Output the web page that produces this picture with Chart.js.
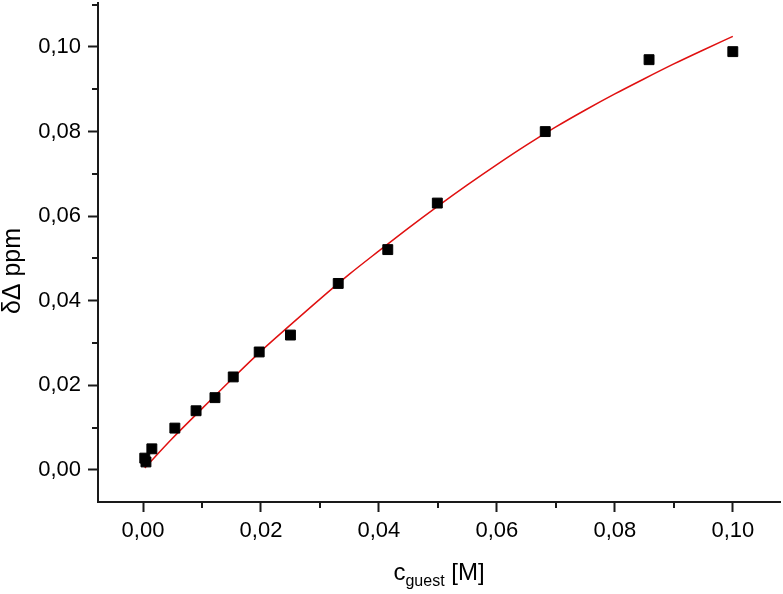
<!DOCTYPE html>
<html>
<head>
<meta charset="utf-8">
<script src="https://cdn.jsdelivr.net/npm/chart.js@4/dist/chart.umd.min.js"></script>
<style>
  html, body { margin: 0; padding: 0; background: #fff; }
  #wrap { width: 783px; height: 594px; position: relative; }
</style>
</head>
<body>
<div id="wrap"><canvas id="c" width="783" height="594"></canvas></div>
<script>
// ---- data ----
const measuredX = [0.0005, 0.0003, 0.0015, 0.0054, 0.0090, 0.0122, 0.0153, 0.0197, 0.0250, 0.0331, 0.0415, 0.0499, 0.0682, 0.0858, 0.1000];
const measuredY = [0.0019, 0.0028, 0.0050, 0.0099, 0.0140, 0.0171, 0.0220, 0.0279, 0.0319, 0.0441, 0.0521, 0.0631, 0.0800, 0.0970, 0.0989];

const fitX = [0.0003, 0.005, 0.010, 0.015, 0.020, 0.025, 0.030, 0.035, 0.040, 0.045, 0.050, 0.055, 0.060, 0.065, 0.070, 0.075, 0.080, 0.085, 0.090, 0.095, 0.100];
const fitY = [0.0005, 0.0075, 0.0145, 0.0214, 0.0281, 0.0343, 0.0404, 0.0463, 0.0518, 0.0572, 0.0624, 0.0674, 0.0722, 0.0768, 0.0811, 0.0851, 0.0889, 0.0925, 0.0960, 0.0993, 0.1025];

const xMajorTicks = [0.00, 0.02, 0.04, 0.06, 0.08, 0.10];
const xTickLabels = ['0,00', '0,02', '0,04', '0,06', '0,08', '0,10'];
const xMinorTicks = [0.01, 0.03, 0.05, 0.07, 0.09];

const yMajorTicks = [0.00, 0.02, 0.04, 0.06, 0.08, 0.10];
const yTickLabels = ['0,00', '0,02', '0,04', '0,06', '0,08', '0,10'];
const yMinorTicks = [0.01, 0.03, 0.05, 0.07, 0.09, 0.11];

const xTitleMain = 'c';
const xTitleSub = 'guest';
const xTitleUnit = ' [M]';
const yTitle = 'δΔ ppm';

// ---- chart ----
const AXIS_COLOR = '#1a1a1a';
const FONT = '"Liberation Sans", Arial, sans-serif';

const minorTicksAndTitles = {
  id: 'minorTicksAndTitles',
  afterDraw(chart) {
    const ctx = chart.ctx;
    const xs = chart.scales.x, ys = chart.scales.y;
    const area = chart.chartArea;
    ctx.save();
    ctx.strokeStyle = AXIS_COLOR;
    ctx.lineWidth = 2;
    ctx.beginPath();
    xMinorTicks.forEach(v => {
      const px = Math.round(xs.getPixelForValue(v));
      ctx.moveTo(px, area.bottom);
      ctx.lineTo(px, area.bottom + 6);
    });
    yMinorTicks.forEach(v => {
      const py = Math.round(ys.getPixelForValue(v));
      ctx.moveTo(area.left, py);
      ctx.lineTo(area.left - 6, py);
    });
    ctx.stroke();

    // axis titles
    ctx.fillStyle = '#000';
    ctx.textBaseline = 'alphabetic';
    const mainFont = '24px ' + FONT;
    const subFont = '16px ' + FONT;
    ctx.font = mainFont;
    const wMain = ctx.measureText(xTitleMain).width;
    const wUnit = ctx.measureText(xTitleUnit).width;
    ctx.font = subFont;
    const wSub = ctx.measureText(xTitleSub).width;
    const total = wMain + wSub + wUnit;
    const cx = (area.left + area.right) / 2;
    const x0 = cx - total / 2;
    const baseY = 580;
    ctx.textAlign = 'left';
    ctx.font = mainFont;
    ctx.fillText(xTitleMain, x0, baseY);
    ctx.font = subFont;
    ctx.fillText(xTitleSub, x0 + wMain, baseY + 6);
    ctx.font = mainFont;
    ctx.fillText(xTitleUnit, x0 + wMain + wSub, baseY);

    // y title
    ctx.translate(20, 271);
    ctx.rotate(-Math.PI / 2);
    ctx.textAlign = 'center';
    ctx.font = '25px ' + FONT;
    ctx.fillText(yTitle, 0, 0);
    ctx.restore();
  }
};

new Chart(document.getElementById('c'), {
  type: 'scatter',
  data: {
    datasets: [
      {
        label: 'data',
        data: measuredX.map((x, i) => ({ x: x, y: measuredY[i] })),
        pointStyle: 'rect',
        pointRadius: 7,
        pointBackgroundColor: '#000',
        pointBorderColor: '#000',
        pointBorderWidth: 1,
        showLine: false
      },
      {
        label: 'fit',
        data: fitX.map((x, i) => ({ x: x, y: fitY[i] })),
        showLine: true,
        borderColor: '#e01010',
        borderWidth: 1.5,
        pointRadius: 0,
        cubicInterpolationMode: 'monotone',
        fill: false
      }
    ]
  },
  options: {
    responsive: false,
    animation: false,
    devicePixelRatio: 1,
    layout: { autoPadding: false, padding: { left: 0, top: 3, right: 3, bottom: 0 } },
    plugins: { legend: { display: false }, tooltip: { enabled: false } },
    scales: {
      x: {
        type: 'linear',
        min: -0.00763,
        max: 0.1080,
        afterBuildTicks: s => { s.ticks = xMajorTicks.map(v => ({ value: v })); },
        afterFit: s => { s.height = 92; s.paddingLeft = 0; s.paddingRight = 0; },
        border: { display: true, color: AXIS_COLOR, width: 2 },
        grid: { drawOnChartArea: false, drawTicks: true, tickLength: 10, tickWidth: 2, tickColor: AXIS_COLOR },
        ticks: {
          padding: 6,
          color: '#000',
          font: { family: FONT, size: 22 },
          maxRotation: 0,
          autoSkip: false,
          callback: (v, i) => xTickLabels[i]
        }
      },
      y: {
        type: 'linear',
        min: -0.00757,
        max: 0.1104,
        afterBuildTicks: s => { s.ticks = yMajorTicks.map(v => ({ value: v })); },
        afterFit: s => { s.width = 98; s.paddingTop = 0; s.paddingBottom = 0; },
        border: { display: true, color: AXIS_COLOR, width: 2 },
        grid: { drawOnChartArea: false, drawTicks: true, tickLength: 10, tickWidth: 2, tickColor: AXIS_COLOR },
        ticks: {
          padding: 7,
          color: '#000',
          font: { family: FONT, size: 22 },
          autoSkip: false,
          callback: (v, i) => yTickLabels[i]
        }
      }
    }
  },
  plugins: [minorTicksAndTitles]
});
</script>
</body>
</html>
